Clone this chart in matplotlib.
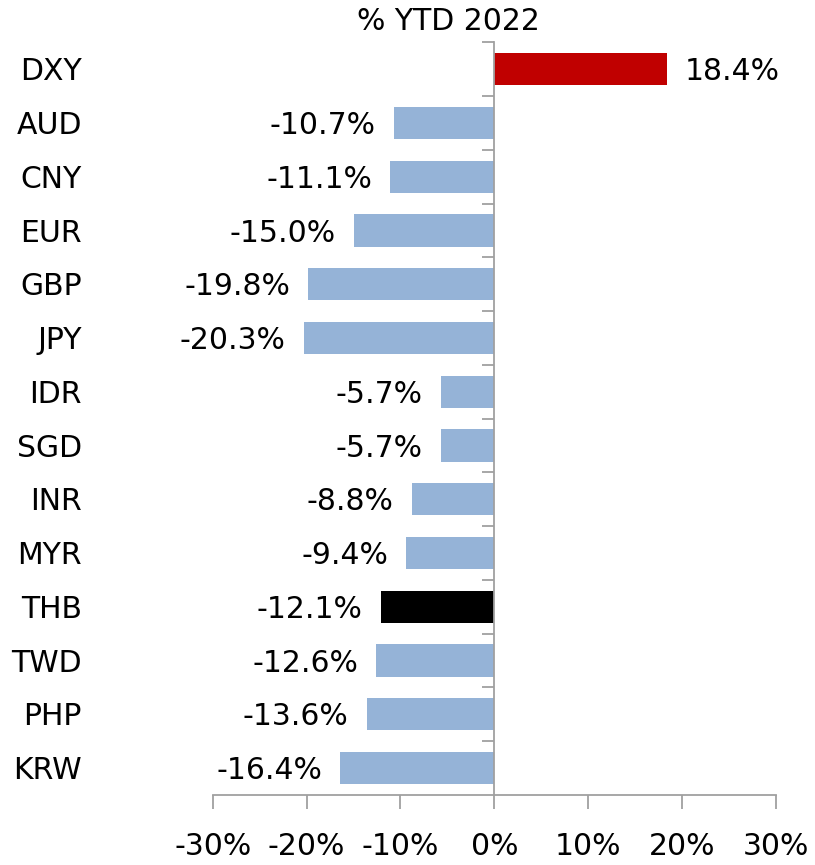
import numpy as np
import matplotlib.pyplot as plt
from matplotlib.transforms import blended_transform_factory

currencies = ['DXY', 'AUD', 'CNY', 'EUR', 'GBP', 'JPY', 'IDR', 'SGD', 'INR', 'MYR',
              'THB', 'TWD', 'PHP', 'KRW']
ytd = [18.4, -10.7, -11.1, -15.0, -19.8, -20.3, -5.7, -5.7, -8.8, -9.4,
       -12.1, -12.6, -13.6, -16.4]
colors = ['#C00000'] + ['#95B3D7'] * 9 + ['#000000'] + ['#95B3D7'] * 3
xticks = [-30, -20, -10, 0, 10, 20, 30]

plt.rcParams['font.family'] = ['DejaVu Sans']
fs = 21.5
fig = plt.figure(figsize=(8.15, 8.65), dpi=100)
ax = fig.add_axes([0.261, 0.081, 0.691, 0.870])

ypos = np.arange(len(currencies))
ax.barh(ypos, ytd, height=0.6, color=colors)
ax.set_xlim(-30, 30)
ax.set_ylim(len(currencies) - 0.5, -0.5)

grey = '#A0A0A0'
for s in ['top', 'right']:
    ax.spines[s].set_visible(False)
ax.spines['left'].set_position(('data', 0))
ax.spines['left'].set_color(grey)
ax.spines['bottom'].set_color(grey)
ax.spines['left'].set_linewidth(1.3)
ax.spines['bottom'].set_linewidth(1.3)

ax.set_xticks(xticks)
ax.set_xticklabels([f'{v}%' for v in xticks], fontsize=fs)
ax.tick_params(axis='x', direction='out', length=10, width=1.3, color=grey, pad=17)

ax.set_yticks([])
ax.set_yticks(np.arange(-0.5, len(currencies) - 0.5, 1), minor=True)
ax.tick_params(axis='y', which='minor', direction='out', length=9, width=1.3, color=grey)
ax.tick_params(axis='y', which='minor', labelleft=False)

trans = blended_transform_factory(fig.transFigure, ax.transData)
for y, name in zip(ypos, currencies):
    ax.text(82 / 815, y + 0.05, name, transform=trans, ha='right', va='center', fontsize=fs)

for y, v in zip(ypos, ytd):
    if v < 0:
        ax.annotate(f'{v:.1f}%', (v, y + 0.05), xytext=(-13, 0), textcoords='offset points',
                    ha='right', va='center', fontsize=fs)
    else:
        ax.annotate(f'{v:.1f}%', (v, y + 0.05), xytext=(13, 0), textcoords='offset points',
                    ha='left', va='center', fontsize=fs)

fig.text(448 / 815, 1 - 22 / 865, '% YTD 2022', ha='center', va='center', fontsize=fs)

plt.savefig('out.png')
